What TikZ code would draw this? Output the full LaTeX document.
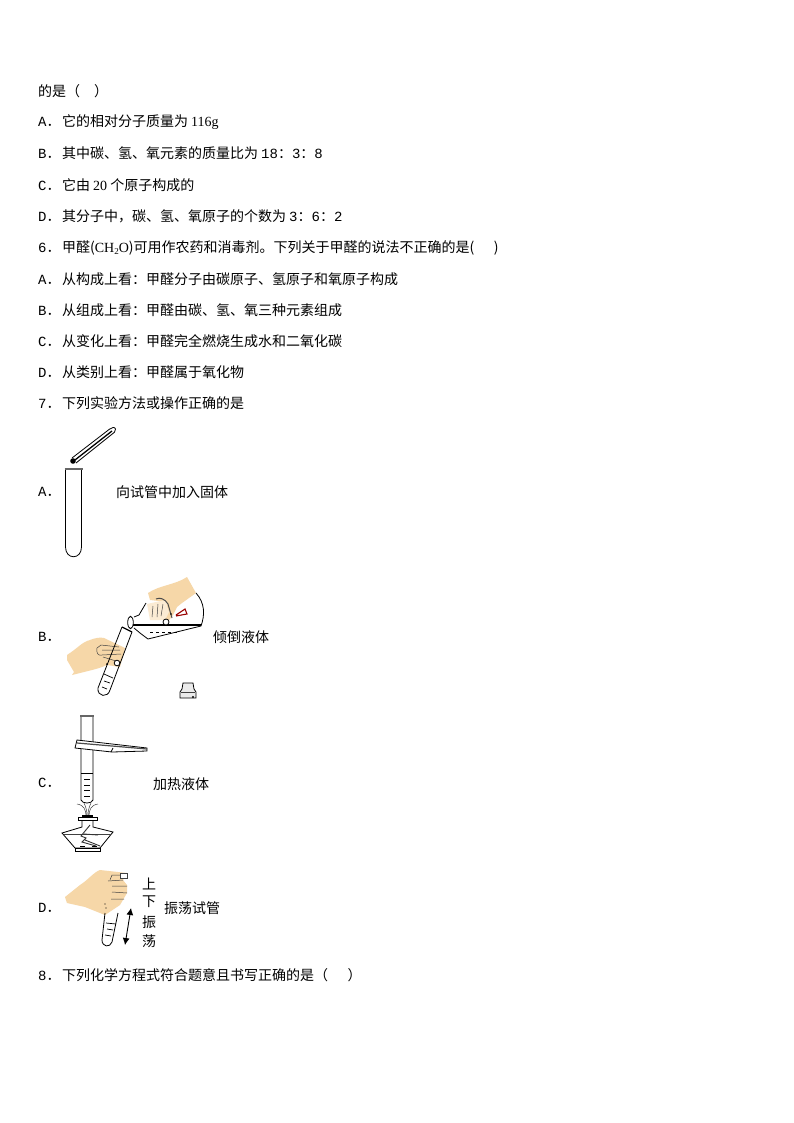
\documentclass[tikz,border=0pt]{standalone}
\usepackage{fontspec}
\setmainfont{Liberation Mono}
\newfontfamily\cjk{Noto Sans CJK SC}
\newfontfamily\nar{Liberation Serif}
\usetikzlibrary{arrows.meta}
\definecolor{skin}{HTML}{F6D7A8}
\definecolor{paleskin}{HTML}{FBEBD3}
\newcommand{\lt}[1]{{\rmfamily #1}}
\newcommand{\opt}[1]{\lt{#1}．\hspace{1.5pt}}
\begin{document}
\begin{tikzpicture}[x=1pt,y=-1pt,
 line/.style={anchor=west,inner sep=0pt,font=\fontsize{14}{14}\selectfont\cjk},
 ol/.style={line width=0.8pt,black},
 thin ol/.style={line width=0.5pt,black!75},
 liq/.style={line width=0.7pt,black}]
\useasboundingbox (0,0) rectangle (794,1123);
\fill[white] (0,0) rectangle (794,1123);
\node[line] (t1) at (38,91) {的是（\hspace{1em}）};
\node[line] (t2) at (38,122) {\opt{A}它的相对分子质量为 {\nar 116g}};
\node[line] (t3) at (38,153) {\opt{B}其中碳、氢、氧元素的质量比为 \lt{18}：\lt{3}：\lt{8}};
\node[line] (t4) at (38,185) {\opt{C}它由 {\nar 20} 个原子构成的};
\node[line] (t5) at (38,216) {\opt{D}其分子中，碳、氢、氧原子的个数为 \lt{3}：\lt{6}：\lt{2}};
\node[line] (t6) at (38,248) {\opt{6}甲醛({\nar CH\raisebox{-2pt}{\fontsize{9}{9}\selectfont 2}O})可用作农药和消毒剂。下列关于甲醛的说法不正确的是(\hspace{1.4em})};
\node[line] (t7) at (38,279) {\opt{A}从构成上看：甲醛分子由碳原子、氢原子和氧原子构成};
\node[line] (t8) at (38,310) {\opt{B}从组成上看：甲醛由碳、氢、氧三种元素组成};
\node[line] (t9) at (38,341) {\opt{C}从变化上看：甲醛完全燃烧生成水和二氧化碳};
\node[line] (t10) at (38,372) {\opt{D}从类别上看：甲醛属于氧化物};
\node[line] (t11) at (38,403) {\opt{7}下列实验方法或操作正确的是};
\node[line] (la) at (38,492) {\lt{A}．};
\node[line] (lb) at (38,637) {\lt{B}．};
\node[line] (lc) at (38,783) {\lt{C}．};
\node[line] (ld) at (38,908) {\lt{D}．};
\node[line] (ca) at (116,492) {向试管中加入固体};
\node[line] (cb) at (213,637) {倾倒液体};
\node[line] (cc) at (153,784) {加热液体};
\node[line] (cd) at (164,908) {振荡试管};
\node[line] (t12) at (38,975) {\opt{8}下列化学方程式符合题意且书写正确的是（\hspace{1.4em}）};
\node[line] (v1) at (142,884) {上};
\node[line] (v2) at (142,902) {下};
\node[line] (v3) at (142,922) {振};
\node[line] (v4) at (142,941) {荡};
% A: tube
\draw[ol] (65.5,469) -- (65.5,547) .. controls (65.5,560) and (81.5,560) .. (81.5,547) -- (81.5,469);
\draw[line width=1.6pt,black!60] (64.5,469) -- (82.5,469);
% A: spatula
\draw[ol,rounded corners=2pt] (72,458) -- (111,428) -- (115,427) -- (116,431) -- (76,463);
\draw[line width=1.3pt] (75,460) -- (112,431);
\fill (73,461) circle (2.8);
% B: bottle
\draw[ol] (134,617) -- (139,615) -- (146,603) (134,628) -- (140,633) -- (148,639) -- (201,626) .. controls (205,615) and (205,603) .. (196,593);
\draw[line width=1.1pt] (132,625) -- (201,625);
\draw[ol,fill=white] (130.5,622.5) ellipse (2.8 and 6.2);
\draw[liq,dashed] (150,632) -- (177,632);
% B: upper hand
\fill[skin] (148,593) .. controls (160,585) and (175,585) .. (187,577) -- (196,593) -- (182,603) -- (177,607) -- (173,615) -- (167,623) -- (163,618) -- (167,602) -- (150,600) -- cycle;
\fill[paleskin] (147,604) -- (165,600) -- (169,612) -- (165,620) -- (150,620) -- cycle;
\draw[line width=1pt,black!70] (156,599) .. controls (160,597) and (165,599) .. (168,604) -- (172,618);
\draw[thin ol] (153,606) -- (152,617) (158,604) -- (157,617) (163,604) -- (161,616);
\draw[line width=1.1pt,red!60!black] (176,615) -- (185,609) -- (187,614) -- (176,616);
\draw[ol,fill=white] (166,622) circle (3);
\fill (171,614) circle (0.9);
% B: lower hand
\fill[skin] (67,655) .. controls (78,648) and (82,642) .. (90,640) .. controls (95,638) and (100,637) .. (104,638) -- (125,648) -- (120,667) -- (107,665) .. controls (100,668) and (96,669) .. (92,670) -- (72,675) -- (74,672) -- (67,660) -- cycle;
\draw[thin ol] (97,648) -- (101,645) -- (119,647) (97,648) .. controls (96,653) and (98,656) .. (102,655) -- (121,654) (102,650) -- (120,650) (103,657) -- (116,661);
% B: tube
\draw[ol] (122,627) -- (98,688) .. controls (97,697) and (108,698) .. (110,690) -- (132,632);
\draw[line width=1.2pt] (122,627) -- (132,632);
\draw[liq] (104,674) -- (113,678) (104,681) -- (110,683) (102,687) -- (107,689);
\draw[ol,fill=white] (117,663) circle (2.8);
\fill (107,664) circle (1);
% stopper
\draw[ol,fill=black!8] (183,683) -- (193,683) -- (194,689) -- (196,692) -- (196,698) -- (180,698) -- (180,692) -- (182,689) -- cycle;
\draw[thin ol] (181,692) -- (195,692);
\fill (193,697) circle (1.2);
% C: tube
\draw[ol] (81,716) -- (81,800) .. controls (82,804) and (92,804) .. (93,800) -- (93,716);
\draw[line width=1.2pt,black!60] (80,716) -- (94,716);
% C: clamp
\draw[ol,fill=white] (77,740) -- (147,748) -- (147,751) -- (112,752) -- (75,748) -- cycle;
\draw[line width=1.2pt,black!70] (77,743) -- (147,749);
\draw[ol] (111,752) -- (113,748);
\draw[ol] (81,773) -- (93,773);
\draw[liq] (84,779) -- (90,779) (84,785) -- (90,785) (84,790) -- (90,790) (84,796) -- (90,796);
% C: flame
\draw[thin ol] (77,804) .. controls (84,805) and (86,810) .. (86,816) (84,803) .. controls (86,807) and (87,811) .. (87,816) (98,804) .. controls (91,805) and (89,810) .. (89,816) (91,803) .. controls (89,807) and (88,811) .. (88,816);
\draw[line width=1.3pt] (82,816) -- (93,816);
% C: lamp
\draw[ol,fill=white] (78,817) rectangle (97,820);
\draw[ol] (82,820) -- (82,827) -- (62,833) -- (75,848) -- (100,848) -- (113,832) -- (93,827) -- (93,820);
\draw[ol,fill=white] (75,848) rectangle (100,851);
\draw[thin ol] (64,834) -- (111,834);
\draw[line width=0.9pt,black!80] (90,825) -- (81,836) -- (86,838) -- (82,842) -- (96,846) (84,834) -- (98,835) (85,840) -- (100,846);
\draw[liq] (80,846) -- (85,846) (92,846) -- (97,846);
% D: hand
\fill[skin] (65,897) -- (80,885) .. controls (88,880) and (94,872) .. (100,870) -- (127,873) -- (123,880) -- (127,885) -- (127,893) -- (120,905) -- (105,915) -- (85,907) -- (67,903) -- cycle;
\draw[thin ol] (108,881) -- (123,880) (112,886) -- (127,886) (112,892) -- (127,893) (111,899) -- (124,899);
\draw[thin ol,fill=white] (120,873) rectangle (127,878);
\draw[thin ol] (110,880) -- (112,875) -- (120,875);
\fill (105,904) circle (0.6) (106,908) circle (0.6);
% D: tube
\draw[ol] (105,913) -- (102,940) .. controls (102,947) and (110,948) .. (112,942) -- (118,913);
\draw[liq] (106,923) -- (116,924) (107,929) -- (113,930) (105,935) -- (111,936);
\draw[line width=0.9pt,{Latex[length=7pt,width=7pt]}-{Latex[length=7pt,width=7pt]}] (131,908) -- (125,945);
\end{tikzpicture}
\end{document}
